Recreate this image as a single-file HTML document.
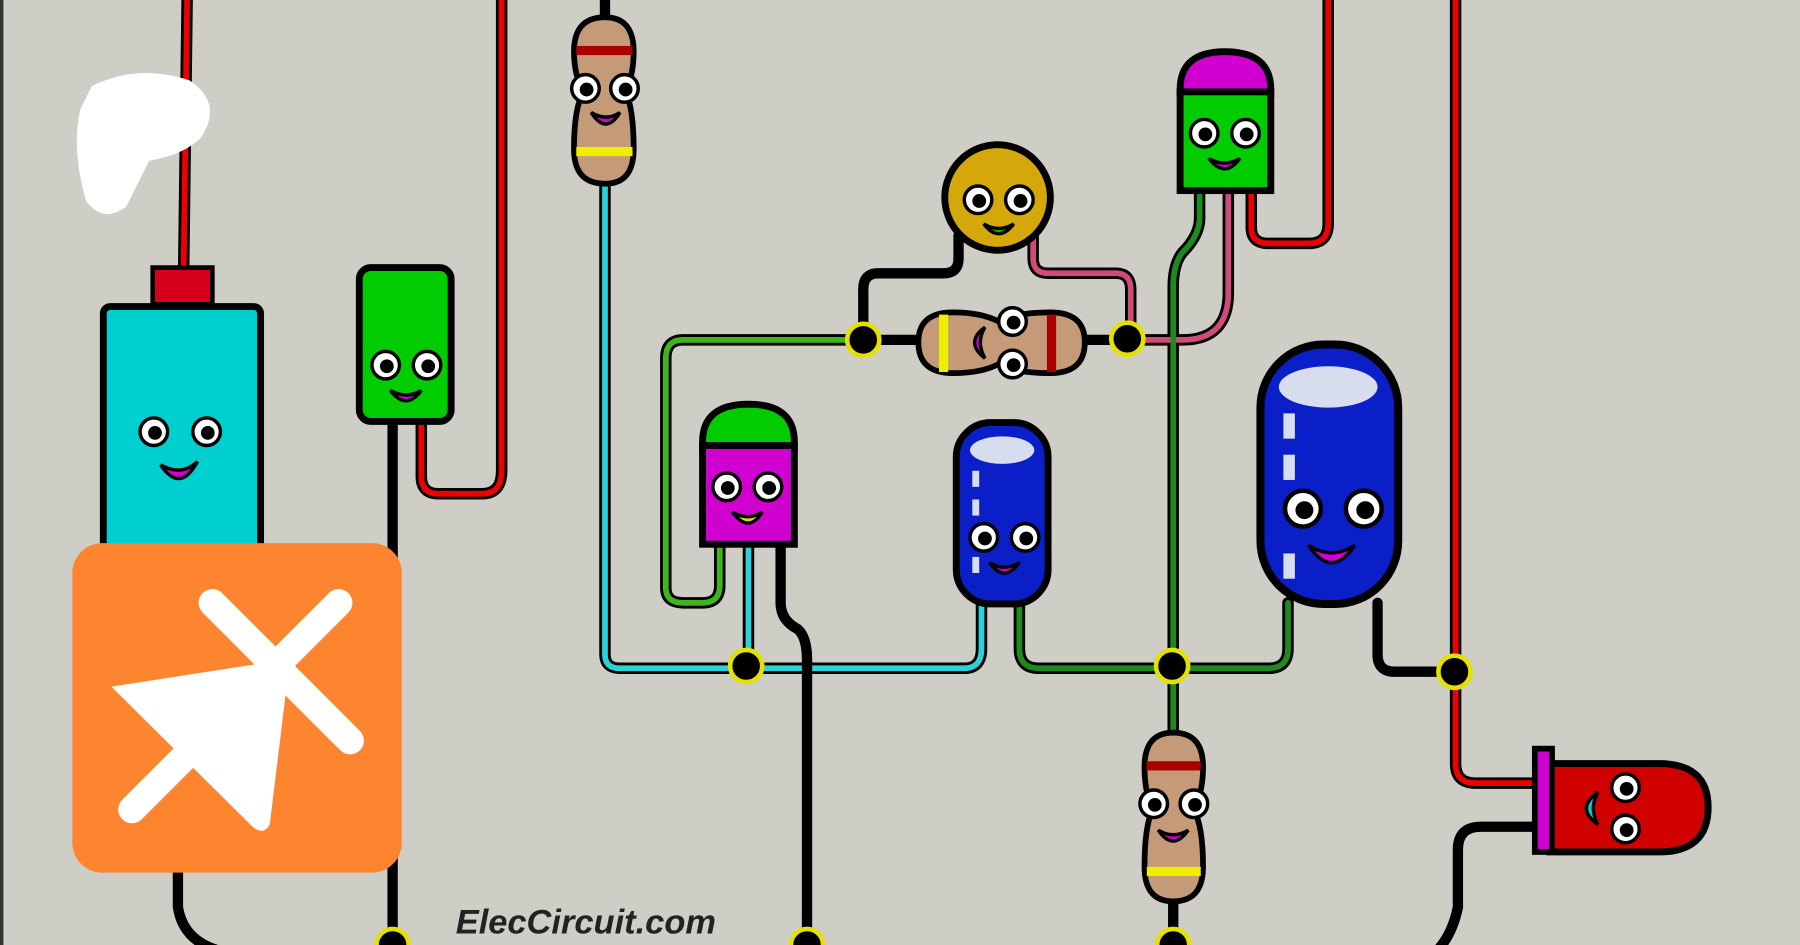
<!DOCTYPE html>
<html><head><meta charset="utf-8"><style>
html,body{margin:0;padding:0;background:#cfcec6;}
svg{display:block;}
</style></head><body>
<svg width="1800" height="945" viewBox="0 0 1568 823" preserveAspectRatio="none" xmlns="http://www.w3.org/2000/svg">
<defs>
<g id="eye"><circle r="12" fill="#fff" stroke="#000" stroke-width="3"/><circle cx="1" cy="1" r="6" fill="#000"/></g>
</defs>
<rect width="1568" height="823" fill="#cfcec6"/>
<rect x="0" y="0" width="3" height="823" fill="#333"/>
<g fill="none" stroke-linejoin="round" stroke-linecap="round">
<!-- outlines -->
<g stroke="#000" stroke-width="10">
<path d="M163 0 L160 235"/>
<path d="M367 368 V415 Q367 430 382 430 H420 Q437 430 437 410 V0"/>
<path d="M527 160 V570 Q527 582 540 582 H840 Q855 582 855 565 V525"/>
<path d="M752 296 H595 Q580 296 580 312 V512 Q580 525 595 525 H612 Q627 525 627 510 V475"/>
<path d="M652 475 V580"/>
<path d="M900 205 V225 Q900 238 913 238 H972 Q985 238 985 252 V296"/>
<path d="M982 296 H1030 Q1070 296 1070 255 V165"/>
<path d="M1045 165 V190 Q1045 205 1030 220 Q1022 230 1022 250 V640"/>
<path d="M1090 165 V198 Q1090 212 1105 212 H1140 Q1157 212 1157 195 V0"/>
<path d="M888 525 V565 Q888 582 905 582 H1105 Q1122 582 1122 565 V525"/>
<path d="M1268 0 V665 Q1268 682 1285 682 H1340"/>
</g>
<g stroke-width="5">
<path stroke="#e00" d="M163 0 L160 235"/>
<path stroke="#e00" d="M367 368 V415 Q367 430 382 430 H420 Q437 430 437 410 V0"/>
<path stroke="#2cd0d8" d="M527 160 V570 Q527 582 540 582 H840 Q855 582 855 565 V525"/>
<path stroke="#3fb51c" d="M752 296 H595 Q580 296 580 312 V512 Q580 525 595 525 H612 Q627 525 627 510 V475"/>
<path stroke="#2cd0d8" d="M652 475 V580"/>
<path stroke="#cf4c7a" d="M900 205 V225 Q900 238 913 238 H972 Q985 238 985 252 V296"/>
<path stroke="#cf4c7a" d="M982 296 H1030 Q1070 296 1070 255 V165"/>
<path stroke="#1e8a1e" d="M1045 165 V190 Q1045 205 1030 220 Q1022 230 1022 250 V640"/>
<path stroke="#e00" d="M1090 165 V198 Q1090 212 1105 212 H1140 Q1157 212 1157 195 V0"/>
<path stroke="#1e8a1e" d="M888 525 V565 Q888 582 905 582 H1105 Q1122 582 1122 565 V525"/>
<path stroke="#e00" d="M1268 0 V665 Q1268 682 1285 682 H1340"/>
</g>
<!-- black wires -->
<g stroke="#000" stroke-width="9">
<path d="M155 740 V790 Q160 823 200 830"/>
<path d="M342 368 V823"/>
<path d="M680 475 V525 Q680 540 695 548 Q703 555 703 575 V823"/>
<path d="M835 205 V225 Q835 238 822 238 H765 Q752 238 752 252 V296"/>
<path d="M752 296 H800"/>
<path d="M945 296 H982"/>
<path d="M527 0 V15"/>
<path d="M1200 525 V570 Q1200 585 1215 585 H1267"/>
<path d="M1340 720 H1290 Q1270 720 1270 740 V790 Q1265 815 1250 830"/>
<path d="M1022 785 V823"/>
</g>
</g>
<!-- white blob -->
<path d="M80 75 Q120 55 165 70 Q195 90 175 120 Q160 135 130 140 Q120 160 110 180 Q90 195 75 175 Q62 130 70 95 Z" fill="#fff"/>
<!-- battery -->
<rect x="133" y="233" width="52" height="32" fill="#d6001c" stroke="#000" stroke-width="4"/>
<rect x="90" y="267" width="137" height="220" rx="6" fill="#00cfd0" stroke="#000" stroke-width="6"/>
<use href="#eye" x="134" y="376"/><use href="#eye" x="180" y="376"/>
<path d="M140 405 Q157 430 172 402 Q158 415 140 405Z" fill="#d000d0" stroke="#000" stroke-width="3"/>
<!-- green rect component -->
<rect x="313" y="233" width="80" height="134" rx="10" fill="#00cc00" stroke="#000" stroke-width="6"/>
<use href="#eye" x="336" y="318"/><use href="#eye" x="372" y="318"/>
<path d="M340 340 Q354 358 367 340 Q354 348 340 340Z" fill="#d000d0" stroke="#000" stroke-width="3"/>
<!-- orange tile -->
<rect x="63" y="473" width="287" height="287" rx="26" fill="#fd8530"/>
<g stroke="#fff" stroke-width="24" stroke-linecap="round">
<line x1="185" y1="525" x2="305" y2="645"/>
<line x1="295" y1="525" x2="115" y2="705"/>
</g>
<path d="M97 598 L245 575 Q252 580 250 595 L235 718 Q230 728 220 720 Z" fill="#fff"/>
<!-- top resistor -->
<path d="M527 15 Q552 15 552 45 Q552 65 545 80 Q552 95 552 130 Q552 160 527 160 Q500 160 500 130 Q500 95 508 80 Q500 65 500 45 Q500 15 527 15Z" fill="#c49a78" stroke="#000" stroke-width="5"/>
<rect x="502" y="40" width="49" height="8" fill="#a00"/>
<rect x="502" y="128" width="49" height="8" fill="#ee0"/>
<use href="#eye" x="510" y="77"/><use href="#eye" x="544" y="77"/>
<path d="M515 98 Q528 118 540 98 Q528 106 515 98Z" fill="#d000d0" stroke="#000" stroke-width="3"/>
<!-- transistor middle -->
<path d="M612 390 V385 Q612 352 652 352 Q692 352 692 385 V390Z" fill="#00cc00" stroke="#000" stroke-width="6"/>
<rect x="612" y="388" width="80" height="86" fill="#d000d0" stroke="#000" stroke-width="6"/>
<use href="#eye" x="633" y="424"/><use href="#eye" x="669" y="424"/>
<path d="M638 446 Q652 465 664 446 Q652 454 638 446Z" fill="#e8e000" stroke="#000" stroke-width="3"/>
<!-- yellow ceramic -->
<circle cx="869" cy="172" r="46" fill="#d4a80a" stroke="#000" stroke-width="6"/>
<use href="#eye" x="852" y="174"/><use href="#eye" x="888" y="174"/>
<path d="M857 195 Q870 212 883 195 Q870 203 857 195Z" fill="#00cc00" stroke="#000" stroke-width="3"/>
<!-- horizontal resistor -->
<path d="M800 298 Q800 272 830 272 Q855 272 870 280 Q885 272 915 272 Q945 272 945 298 Q945 325 915 325 Q885 325 870 317 Q855 325 830 325 Q800 325 800 298Z" fill="#c49a78" stroke="#000" stroke-width="5"/>
<rect x="818" y="274" width="8" height="50" fill="#ee0"/>
<rect x="912" y="274" width="8" height="50" fill="#a00"/>
<use href="#eye" x="882" y="280"/><use href="#eye" x="882" y="317"/>
<path d="M858 285 Q840 298 858 312 Q850 298 858 285Z" fill="#d000d0" stroke="#000" stroke-width="3"/>
<!-- transistor top right -->
<path d="M1028 82 V78 Q1028 45 1067 45 Q1107 45 1107 78 V82Z" fill="#d000d0" stroke="#000" stroke-width="6"/>
<rect x="1028" y="80" width="79" height="86" fill="#00cc00" stroke="#000" stroke-width="6"/>
<use href="#eye" x="1049" y="116"/><use href="#eye" x="1085" y="116"/>
<path d="M1053 138 Q1067 156 1080 138 Q1067 146 1053 138Z" fill="#d000d0" stroke="#000" stroke-width="3"/>
<!-- small blue cap -->
<rect x="833" y="368" width="80" height="158" rx="30" fill="#0a1fc8" stroke="#000" stroke-width="6"/>
<ellipse cx="873" cy="392" rx="28" ry="12" fill="#d8dcef"/>
<rect x="847" y="410" width="6" height="14" fill="#d8dcef"/>
<rect x="847" y="435" width="6" height="14" fill="#d8dcef"/>
<rect x="847" y="460" width="6" height="14" fill="#d8dcef"/>
<rect x="847" y="485" width="6" height="14" fill="#d8dcef"/>
<use href="#eye" x="857" y="468"/><use href="#eye" x="893" y="468"/>
<path d="M862 490 Q875 508 888 490 Q875 498 862 490Z" fill="#d000d0" stroke="#000" stroke-width="3"/>
<!-- big blue cap -->
<rect x="1098" y="300" width="120" height="226" rx="55" fill="#0a1fc8" stroke="#000" stroke-width="7"/>
<ellipse cx="1157" cy="337" rx="43" ry="18" fill="#d8dcef"/>
<rect x="1118" y="360" width="10" height="22" fill="#d8dcef"/>
<rect x="1118" y="396" width="10" height="22" fill="#d8dcef"/>
<rect x="1118" y="482" width="10" height="22" fill="#d8dcef"/>
<g transform="translate(1135,443) scale(1.3)"><use href="#eye"/></g>
<g transform="translate(1188,443) scale(1.3)"><use href="#eye"/></g>
<path d="M1140 475 Q1160 505 1180 475 Q1160 488 1140 475Z" fill="#d000d0" stroke="#000" stroke-width="3"/>
<!-- bottom resistor -->
<path d="M1022 638 Q1048 638 1048 668 Q1048 690 1040 705 Q1048 720 1048 755 Q1048 785 1022 785 Q997 785 997 755 Q997 720 1004 705 Q997 690 997 668 Q997 638 1022 638Z" fill="#c49a78" stroke="#000" stroke-width="5"/>
<rect x="999" y="663" width="47" height="8" fill="#a00"/>
<rect x="999" y="755" width="47" height="8" fill="#ee0"/>
<use href="#eye" x="1005" y="700"/><use href="#eye" x="1040" y="700"/>
<path d="M1009 723 Q1022 742 1035 723 Q1022 731 1009 723Z" fill="#d000d0" stroke="#000" stroke-width="3"/>
<!-- LED -->
<path d="M1350 665 H1445 Q1488 665 1488 703 Q1488 742 1445 742 H1350Z" fill="#d00000" stroke="#000" stroke-width="6"/>
<rect x="1337" y="652" width="15" height="90" fill="#d000d0" stroke="#000" stroke-width="5"/>
<use href="#eye" x="1416" y="686"/><use href="#eye" x="1416" y="722"/>
<path d="M1392 690 Q1372 704 1392 718 Q1384 704 1392 690Z" fill="#00d0d0" stroke="#000" stroke-width="3"/>
<!-- nodes -->
<g fill="#000" stroke="#e4e000" stroke-width="4">
<circle cx="752" cy="296" r="14"/>
<circle cx="982" cy="295" r="14"/>
<circle cx="650" cy="580" r="14"/>
<circle cx="1021" cy="580" r="14"/>
<circle cx="1267" cy="585" r="14"/>
<circle cx="342" cy="823" r="14"/>
<circle cx="703" cy="823" r="14"/>
<circle cx="1022" cy="823" r="14"/>
</g>
<text x="397" y="813" font-family="Liberation Sans, sans-serif" font-weight="bold" font-style="italic" font-size="30" fill="#222">ElecCircuit.com</text>
</svg>
</body></html>
